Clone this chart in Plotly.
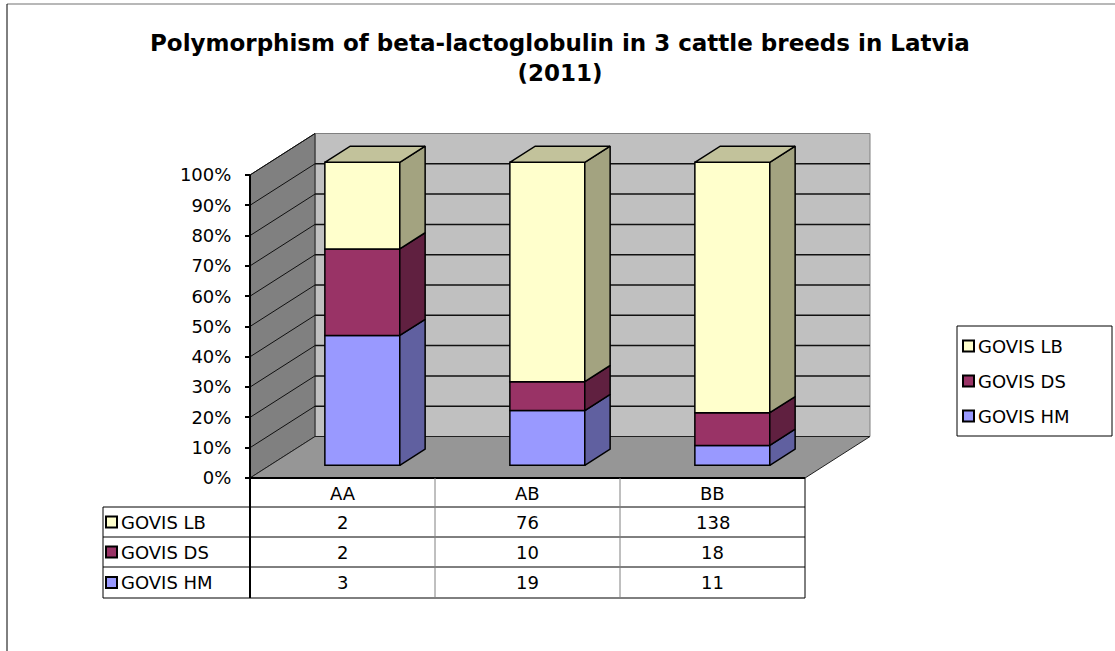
import plotly.graph_objects as go

# data (counts per genotype)
categories = ["AA", "AB", "BB"]
series_names = ["GOVIS HM", "GOVIS DS", "GOVIS LB"]   # bottom -> top of each stack
govis_hm = [3, 19, 11]
govis_ds = [2, 10, 18]
govis_lb = [2, 76, 138]
pct_ticks = [0, 10, 20, 30, 40, 50, 60, 70, 80, 90, 100]
pct_labels = [f"{t}%" for t in pct_ticks]

counts = {"GOVIS HM": govis_hm, "GOVIS DS": govis_ds, "GOVIS LB": govis_lb}
front_col = {"GOVIS HM": "#9999FF", "GOVIS DS": "#993366", "GOVIS LB": "#FFFFCC"}
side_col = {"GOVIS HM": "#6060A0", "GOVIS DS": "#602040", "GOVIS LB": "#A3A380"}
top_col = "#C2C29B"

FONT = "DejaVu Sans"
FS = 18
W, H = 1115, 651

# geometry of the pseudo-3D box (pixels of the page)
AX_LEFT, AX_BOTTOM = 250, 478
CAT_PX, PCT_PX = 185, 3.03
DX, DY = 65 / CAT_PX, 41.5 / PCT_PX      # depth offset in data units
BAR_W, D0, D1 = 0.405, 0.305, 0.695


def X(p):
    return (p - AX_LEFT) / CAT_PX


def Y(p):
    return (AX_BOTTOM - p) / PCT_PX


def proj(x, y, d):
    return x + d * DX, y + d * DY


def path(pts):
    return "M " + " L ".join(f"{x},{y}" for x, y in pts) + " Z"


n = len(categories)
totals = [sum(counts[s][i] for s in series_names) for i in range(n)]
pct = {s: [counts[s][i] / totals[i] * 100 for i in range(n)] for s in series_names}

fig = go.Figure()
shapes = []

# walls and floor
left_wall = [proj(0, 0, 0), proj(0, 100, 0), proj(0, 100, 1), proj(0, 0, 1)]
back_wall = [proj(0, 0, 1), proj(n, 0, 1), proj(n, 100, 1), proj(0, 100, 1)]
floor = [proj(0, 0, 0), proj(n, 0, 0), proj(n, 0, 1), proj(0, 0, 1)]
shapes.append(dict(type="path", path=path(back_wall), fillcolor="#C0C0C0",
                   line=dict(color="#808080", width=1), layer="below"))
shapes.append(dict(type="path", path=path(left_wall), fillcolor="#808080",
                   line=dict(color="#202020", width=1), layer="below"))
shapes.append(dict(type="path", path=path(floor), fillcolor="#969696",
                   line=dict(color="#202020", width=1), layer="below"))

# gridlines
for t in pct_ticks[1:]:
    x0, y0 = proj(0, t, 0)
    x1, y1 = proj(0, t, 1)
    x2, y2 = proj(n, t, 1)
    shapes.append(dict(type="line", x0=x0, y0=y0, x1=x1, y1=y1,
                       line=dict(color="#101010", width=1), layer="below"))
    if t < 100:
        shapes.append(dict(type="line", x0=x1, y0=y1, x1=x2, y1=y2,
                           line=dict(color="#101010", width=1.5), layer="below"))

# front edge of floor and vertical axis line
shapes.append(dict(type="line", x0=0, y0=0, x1=n, y1=0, line=dict(color="black", width=2)))
shapes.append(dict(type="line", x0=0, y0=100, x1=0, y1=Y(598), line=dict(color="black", width=2)))

# front faces of the stacked bars
bottom = [0.0] * n
for s in series_names:
    fig.add_trace(go.Bar(
        x=[i + 0.5 + D0 * DX for i in range(n)],
        y=pct[s],
        base=[b + D0 * DY for b in bottom],
        width=BAR_W,
        marker=dict(color=front_col[s], line=dict(color="black", width=1.5)),
        name=s, showlegend=False, hoverinfo="skip",
    ))
    # right side faces
    for i in range(n):
        xr = i + 0.5 + BAR_W / 2
        b, t = bottom[i], bottom[i] + pct[s][i]
        pts = [proj(xr, b, D0), proj(xr, t, D0), proj(xr, t, D1), proj(xr, b, D1), proj(xr, b, D0)]
        fig.add_trace(go.Scatter(
            x=[p[0] for p in pts], y=[p[1] for p in pts], mode="lines", fill="toself",
            fillcolor=side_col[s], line=dict(color="black", width=1.5),
            showlegend=False, hoverinfo="skip"))
    bottom = [bottom[i] + pct[s][i] for i in range(n)]

# top faces
for i in range(n):
    xl, xr = i + 0.5 - BAR_W / 2, i + 0.5 + BAR_W / 2
    t = bottom[i]
    pts = [proj(xl, t, D0), proj(xr, t, D0), proj(xr, t, D1), proj(xl, t, D1), proj(xl, t, D0)]
    fig.add_trace(go.Scatter(
        x=[p[0] for p in pts], y=[p[1] for p in pts], mode="lines", fill="toself",
        fillcolor=top_col, line=dict(color="black", width=1.5),
        showlegend=False, hoverinfo="skip"))

# data table under the chart
row_y = [478, 507, 537, 567, 598]
for yy in row_y[1:]:
    shapes.append(dict(type="line", x0=X(103), y0=Y(yy), x1=n, y1=Y(yy),
                       line=dict(color="black", width=1)))
shapes.append(dict(type="line", x0=X(103), y0=Y(507), x1=X(103), y1=Y(598),
                   line=dict(color="black", width=1)))
for i in range(1, n):
    shapes.append(dict(type="line", x0=i, y0=Y(478), x1=i, y1=Y(598),
                       line=dict(color="#808080", width=1)))
shapes.append(dict(type="line", x0=n, y0=Y(478), x1=n, y1=Y(598),
                   line=dict(color="black", width=1)))

annotations = []
for i, c in enumerate(categories):
    annotations.append(dict(x=i + 0.5, y=Y(493), text=c, showarrow=False,
                            font=dict(family=FONT, size=FS, color="black")))

table_rows = ["GOVIS LB", "GOVIS DS", "GOVIS HM"]
for k, s in enumerate(table_rows):
    yc = (row_y[k + 1] + row_y[k + 2]) / 2
    shapes.append(dict(type="rect", x0=X(106), x1=X(117), y0=Y(yc - 5.5), y1=Y(yc + 5.5),
                       fillcolor=front_col[s], line=dict(color="black", width=2)))
    annotations.append(dict(x=X(119), y=Y(yc), text=s, showarrow=False, xanchor="left",
                            font=dict(family=FONT, size=FS, color="black")))
    for i in range(n):
        annotations.append(dict(x=i + 0.5, y=Y(yc), text=str(counts[s][i]), showarrow=False,
                                font=dict(family=FONT, size=FS, color="black")))

# legend box
shapes.append(dict(type="rect", x0=X(957), x1=X(1112), y0=Y(326), y1=Y(436),
                   fillcolor="white", line=dict(color="black", width=1)))
for k, s in enumerate(table_rows):
    yc = 346 + 35 * k
    shapes.append(dict(type="rect", x0=X(963), x1=X(974), y0=Y(yc - 5.5), y1=Y(yc + 5.5),
                       fillcolor=front_col[s], line=dict(color="black", width=2)))
    annotations.append(dict(x=X(976), y=Y(yc), text=s, showarrow=False, xanchor="left",
                            font=dict(family=FONT, size=FS, color="black")))

# title
annotations.append(dict(x=X(560), y=Y(28), yanchor="top", showarrow=False,
                        text="Polymorphism of beta-lactoglobulin in 3 cattle breeds in Latvia<br>(2011)",
                        font=dict(family=FONT, size=23, color="black", weight="bold")))

# outer border of the chart area
shapes.append(dict(type="line", xref="paper", yref="paper", x0=7 / W, x1=1, y0=1 - 4 / H, y1=1 - 4 / H,
                   line=dict(color="#A0A0A0", width=1.5)))
shapes.append(dict(type="line", xref="paper", yref="paper", x0=7 / W, x1=7 / W, y0=0, y1=1 - 4 / H,
                   line=dict(color="black", width=1)))

fig.update_layout(
    width=W, height=H, margin=dict(l=0, r=0, t=0, b=0),
    paper_bgcolor="white", plot_bgcolor="white",
    barmode="overlay", showlegend=False,
    shapes=shapes, annotations=annotations,
    xaxis=dict(range=[X(0), X(W)], visible=False, fixedrange=True),
    yaxis=dict(range=[Y(H), Y(0)], anchor="free", position=AX_LEFT / W, side="left",
               tickvals=pct_ticks, ticktext=pct_labels, ticks="outside", ticklen=5,
               tickwidth=1.5, tickcolor="black", showline=False, showgrid=False,
               zeroline=False, ticklabelstandoff=10, fixedrange=True,
               tickfont=dict(family=FONT, size=FS, color="black")),
)

fig.write_html("out.html", config={"displayModeBar": False},
               post_script="document.body.style.margin='0';")
